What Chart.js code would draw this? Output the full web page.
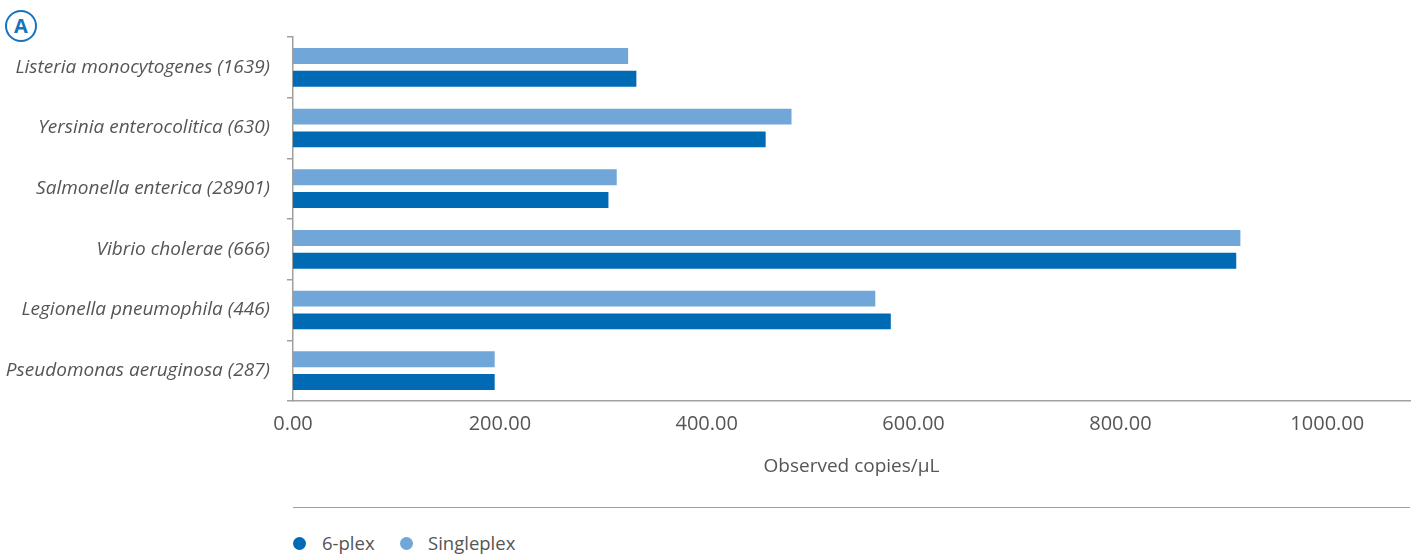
<!DOCTYPE html>
<html>
<head>
<meta charset="utf-8">
<script src="https://cdn.jsdelivr.net/npm/chart.js@4/dist/chart.umd.min.js"></script>
<style>
  html, body { margin: 0; padding: 0; background: #fff; }
  body { width: 1416px; height: 558px; position: relative; overflow: hidden; font-family: "Open Sans", sans-serif; }
  #wrap { position: absolute; left: 0; top: 0; width: 1416px; height: 490px; }
  #logo { position: absolute; left: 5px; top: 10px; width: 28px; height: 28px; border: 2.5px solid #1574bd; border-radius: 50%;
          color: #1574bd; font: bold 20px "Open Sans", sans-serif; text-align: center; line-height: 28px; background: #fff; }
  #sep { position: absolute; left: 293px; top: 507px; width: 1117px; height: 0; border-top: 1.5px solid #a0a0a0; }
  .leg { position: absolute; top: 531px; height: 24px; line-height: 24px; font-size: 18.5px; color: #555; }
  .dot { position: absolute; width: 13px; height: 13px; border-radius: 50%; top: 537px; }
</style>
</head>
<body>
<div id="logo">A</div>
<div id="wrap"><canvas id="c" width="1416" height="490"></canvas></div>
<div id="sep"></div>
<div class="dot" style="left:293px;background:#006ab5"></div>
<div class="leg" style="left:322px">6-plex</div>
<div class="dot" style="left:400px;background:#70a6d8"></div>
<div class="leg" style="left:428px">Singleplex</div>
<script>
const categories = [
  "Listeria monocytogenes (1639)",
  "Yersinia enterocolitica (630)",
  "Salmonella enterica (28901)",
  "Vibrio cholerae (666)",
  "Legionella pneumophila (446)",
  "Pseudomonas aeruginosa (287)"
];
const singleplex = [324, 482, 313, 916, 563, 195];
const sixplex = [332, 457, 305, 912, 578, 195];
const xTicks = [0, 200, 400, 600, 800, 1000];

const grey = "#555";
new Chart(document.getElementById("c"), {
  type: "bar",
  data: {
    labels: categories,
    datasets: [
      { label: "Singleplex", data: singleplex, backgroundColor: "#70a6d8", categoryPercentage: 0.75, barPercentage: 0.7 },
      { label: "6-plex", data: sixplex, backgroundColor: "#006ab5", categoryPercentage: 0.75, barPercentage: 0.7 }
    ]
  },
  options: {
    indexAxis: "y",
    responsive: false,
    animation: false,
    layout: { padding: { top: 37, right: 6, left: 0, bottom: 0 } },
    plugins: { legend: { display: false }, tooltip: { enabled: false } },
    scales: {
      x: {
        min: 0, max: 1080,
        afterBuildTicks: (axis) => { axis.ticks = xTicks.map(v => ({ value: v })); },
        afterFit: (axis) => { axis.height = 89; },
        grid: { display: false, drawTicks: false },
        border: { display: true, color: "#a0a0a0", width: 1.5 },
        ticks: { padding: 11, color: grey, font: { family: "Open Sans", size: 20 }, callback: (v) => Number(v).toFixed(2) },
        title: { display: true, text: "Observed copies/µL", color: grey, font: { family: "Open Sans", size: 19 }, padding: { top: 8, bottom: 12 } }
      },
      y: {
        afterFit: (axis) => { axis.width = 293; },
        grid: { display: true, drawOnChartArea: false, drawTicks: true, tickLength: 6, color: "#a0a0a0", lineWidth: 1.5, offset: true },
        border: { display: true, color: "#a0a0a0", width: 1.5 },
        ticks: { padding: 17, color: grey, font: { family: "Open Sans", size: 19, style: "italic" } }
      }
    }
  }
});
</script>
</body>
</html>
